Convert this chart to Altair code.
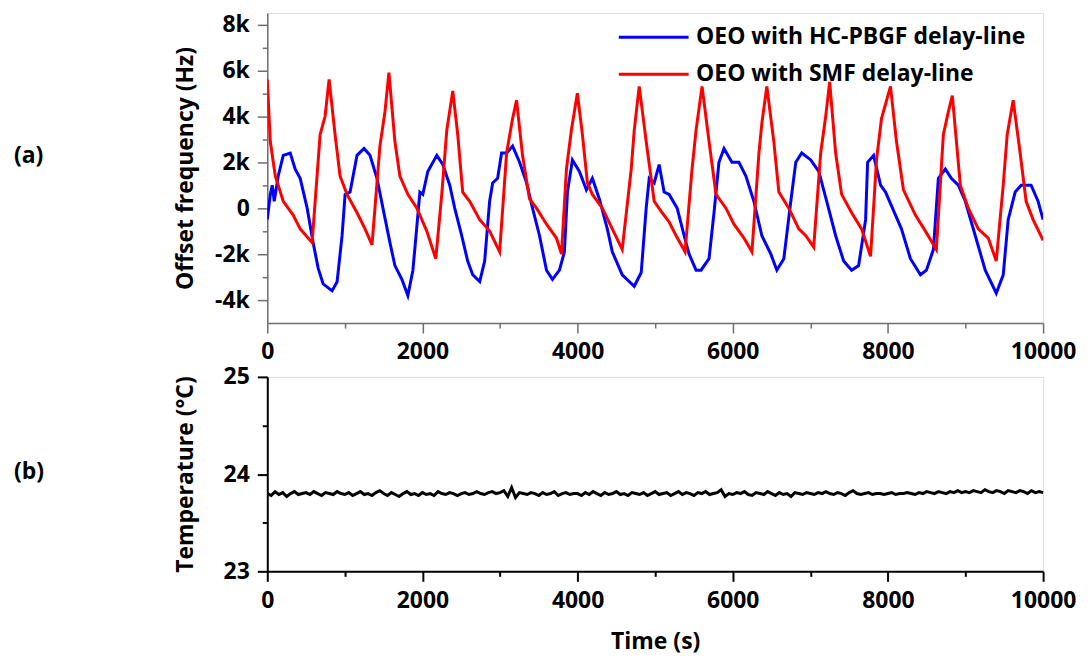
import altair as alt
import pandas as pd

# ---------------- data ----------------
hc_t = [0, 39, 64, 90, 141, 206, 296, 360, 424, 514, 591, 655, 720, 835, 900, 964, 1003, 1067, 1157, 1247,
        1324, 1414, 1491, 1581, 1645, 1735, 1812, 1877, 1941, 1967, 2005, 2069, 2185, 2262, 2352, 2416, 2506,
        2583, 2648, 2738, 2802, 2866, 2905, 2969, 3020, 3085, 3162, 3252, 3342, 3419, 3509, 3599, 3676, 3766,
        3830, 3869, 3933, 4023, 4113, 4190, 4280, 4383, 4447, 4537, 4575, 4730, 4820, 4884, 4923, 4987, 5051,
        5115, 5180, 5283, 5373, 5437, 5527, 5591, 5694, 5758, 5822, 5887, 5989, 6079, 6169, 6272, 6375, 6491,
        6568, 6658, 6748, 6812, 6889, 7005, 7108, 7211, 7326, 7429, 7532, 7622, 7712, 7738, 7815, 7905, 7969,
        8046, 8174, 8290, 8419, 8496, 8586, 8650, 8740, 8817, 8907, 8997, 9126, 9254, 9396, 9486, 9550, 9640,
        9717, 9845, 9935, 10000]
hc_k = [-0.5, 0.6, 1.0, 0.3, 1.4, 2.3, 2.4, 1.7, 1.3, 0.0, -1.5, -2.6, -3.3, -3.6, -3.2, -1.2, 0.6, 0.7, 2.3, 2.6,
        2.3, 1.3, 0.0, -1.5, -2.5, -3.1, -3.8, -2.7, -0.3, 0.7, 0.6, 1.6, 2.3, 1.9, 1.0, 0.0, -1.2,
        -2.3, -2.9, -3.2, -2.3, 0.3, 1.1, 1.3, 2.4, 2.4, 2.7, 2.0, 1.1, 0.0, -1.2, -2.7, -3.1, -2.7,
        -1.9, 0.7, 2.1, 1.6, 0.8, 1.3, 0.4, -0.9, -1.9, -2.6, -2.9, -3.4, -2.8, 0.0, 1.3, 1.1, 1.9,
        0.7, 0.6, 0.0, -1.2, -2.0, -2.7, -2.7, -2.2, -0.2, 2.0, 2.6, 2.0, 2.0, 1.4, 0.3, -1.2, -2.0,
        -2.7, -2.2, 0.3, 2.0, 2.4, 2.1, 1.6, 0.3, -1.2, -2.3, -2.7, -2.5, -0.5, 2.0, 2.3, 1.0, 0.7,
        0.1, -0.9, -2.2, -2.9, -2.7, -1.8, 1.3, 1.7, 1.3, 1.0, 0.3, -1.2, -2.7, -3.7, -2.9, -0.5, 0.7,
        1.0, 1.0, 0.3, -0.5]

smf_t = [0, 39, 103, 206, 334, 424, 578, 681, 745, 797, 874, 938, 1028, 1157, 1260, 1350, 1452, 1517, 1568,
         1645, 1709, 1812, 1928, 2056, 2172, 2249, 2314, 2391, 2455, 2519, 2609, 2738, 2866, 2995, 3085, 3162,
         3213, 3290, 3380, 3470, 3599, 3727, 3792, 3856, 3920, 3997, 4062, 4126, 4190, 4319, 4447, 4575, 4691,
         4730, 4794, 4884, 4987, 5090, 5180, 5270, 5385, 5475, 5527, 5604, 5694, 5784, 5912, 6015, 6144, 6247,
         6337, 6375, 6439, 6529, 6594, 6722, 6851, 6941, 7043, 7133, 7198, 7249, 7326, 7403, 7532, 7660, 7776,
         7853, 7917, 8033, 8110, 8200, 8354, 8483, 8624, 8714, 8779, 8830, 8933, 9036, 9164, 9293, 9396, 9486,
         9537, 9614, 9704, 9781, 9871, 10000]
smf_k = [5.6, 2.9, 1.4, 0.3, -0.3, -0.9, -1.5, 3.2, 4.0, 5.6, 3.2, 1.4, 0.6, -0.2, -0.9, -1.6, 2.7, 4.2, 5.9,
         2.9, 1.4, 0.6, 0.0, -1.0, -2.2, 0.6, 3.4, 5.1, 3.2, 0.7, 0.3, -0.5, -1.0, -1.9, 2.4, 3.9,
         4.7, 2.3, 0.4, 0.0, -0.7, -1.3, -2.0, 1.7, 3.4, 5.0, 3.2, 1.1, 0.6, 0.0, -0.9, -1.8, 1.7,
         3.4, 5.3, 2.9, 0.3, -0.2, -0.6, -1.2, -1.9, 1.7, 3.4, 5.3, 2.9, 0.6, 0.0, -0.7, -1.3, -1.9,
         2.4, 3.7, 5.3, 2.9, 0.7, 0.0, -0.9, -1.2, -1.7, 2.4, 4.0, 5.5, 2.4, 0.6, -0.2, -0.9, -2.1,
         2.1, 3.9, 5.3, 2.9, 0.8, -0.3, -1.0, -1.8, 3.2, 4.2, 4.9, 1.0, 0.0, -0.9, -1.3, -2.3, 1.0,
         3.2, 4.7, 2.4, 0.3, -0.5, -1.4]

temp_t = list(range(0, 10001, 50))
temp_c = [
    23.80, 23.78, 23.82, 23.79, 23.81, 23.77, 23.80, 23.82, 23.79, 23.80, 23.81, 23.79, 23.82, 23.80, 23.78, 23.81, 23.80, 23.79, 23.82, 23.80,
    23.79, 23.81, 23.78, 23.80, 23.82, 23.79, 23.80, 23.78, 23.81, 23.83, 23.80, 23.78, 23.81, 23.79, 23.77, 23.80, 23.82, 23.79, 23.80, 23.78,
    23.81, 23.79, 23.80, 23.78, 23.82, 23.80, 23.79, 23.81, 23.80, 23.78, 23.80, 23.81, 23.79, 23.80, 23.82, 23.80, 23.79, 23.81, 23.82, 23.80,
    23.81, 23.83, 23.77, 23.86, 23.76, 23.81, 23.80, 23.79, 23.81, 23.80, 23.78, 23.81, 23.79, 23.80, 23.82, 23.78, 23.80, 23.81, 23.79, 23.80,
    23.80, 23.78, 23.81, 23.79, 23.82, 23.80, 23.78, 23.81, 23.79, 23.80, 23.82, 23.79, 23.80, 23.78, 23.81, 23.80, 23.79, 23.81, 23.78, 23.80,
    23.82, 23.79, 23.80, 23.81, 23.78, 23.80, 23.82, 23.79, 23.81, 23.80, 23.78, 23.81, 23.80, 23.82, 23.79, 23.80, 23.81, 23.84, 23.77, 23.80,
    23.79, 23.81, 23.80, 23.82, 23.79, 23.78, 23.81, 23.80, 23.79, 23.82, 23.80, 23.78, 23.81, 23.79, 23.80, 23.77, 23.81, 23.80, 23.79, 23.81,
    23.80, 23.79, 23.81, 23.80, 23.82, 23.80, 23.79, 23.81, 23.80, 23.78, 23.81, 23.83, 23.80, 23.79, 23.80, 23.81, 23.79, 23.80, 23.80, 23.79,
    23.80, 23.81, 23.79, 23.80, 23.80, 23.81, 23.80, 23.79, 23.81, 23.80, 23.82, 23.81, 23.80, 23.82, 23.81, 23.80, 23.82, 23.81, 23.83, 23.81,
    23.82, 23.81, 23.83, 23.82, 23.81, 23.84, 23.82, 23.81, 23.83, 23.82, 23.80, 23.83, 23.82, 23.81, 23.83, 23.82, 23.80, 23.83, 23.81, 23.82,
    23.81,
]

series_names = ["OEO with HC-PBGF delay-line", "OEO with SMF delay-line"]
series_colors = ["#0000ff", "#ff0000"]

x_ticks = [0, 1000, 2000, 3000, 4000, 5000, 6000, 7000, 8000, 9000, 10000]
y1_ticks = [-4000, -3000, -2000, -1000, 0, 1000, 2000, 3000, 4000, 5000, 6000, 7000, 8000]
y2_ticks = [23, 23.5, 24, 24.5, 25]

# ---------------- tables ----------------
df_top = pd.concat([
    pd.DataFrame({"t": hc_t, "v": [k * 1000 for k in hc_k], "s": series_names[0], "o": 0}),
    pd.DataFrame({"t": smf_t, "v": [k * 1000 for k in smf_k], "s": series_names[1], "o": 1}),
], ignore_index=True)
df_temp = pd.DataFrame({"t": temp_t, "c": temp_c})

FONT = "Open Sans"
W = 778

xs = alt.Scale(domain=[0, 10000], nice=False, zero=False)
ys1 = alt.Scale(domain=[-5000, 8500], nice=False, zero=False)
ys2 = alt.Scale(domain=[23, 25], nice=False, zero=False)


def axis(orient, values, major_test, label_expr, color, width, title=None, title_x=None,
         label_pad=8, title_pad=None):
    kw = dict(orient=orient, values=values,
              tickSize={"condition": {"test": major_test, "value": 10}, "value": 5},
              tickWidth=width, tickColor=color, domainColor=color, domainWidth=width, grid=False,
              labelFont=FONT, labelFontWeight="bold", labelFontSize=23, labelColor="black",
              labelPadding=label_pad, labelExpr=label_expr, labelOverlap=False, labelFlush=False)
    if title:
        kw.update(title=title, titleFont=FONT, titleFontWeight="bold", titleFontSize=23,
                  titleColor="black")
        if title_x is not None:
            kw["titleX"] = title_x
        if title_pad is not None:
            kw["titlePadding"] = title_pad
    else:
        kw["title"] = None
    return alt.Axis(**kw)


x_test = "datum.value % 2000 === 0"
x_lab = "datum.value % 2000 === 0 ? format(datum.value, 'd') : ''"
y1_test = "datum.value % 2000 === 0"
y1_lab = "datum.value % 2000 !== 0 ? '' : (datum.value === 0 ? '0' : (datum.value / 1000) + 'k')"
y2_test = "datum.value % 1 === 0"
y2_lab = "datum.value % 1 === 0 ? format(datum.value, 'd') : ''"

GRAY = "#6e6e6e"

# ---------------- top panel ----------------
lines = alt.Chart(df_top).mark_line(strokeWidth=3, clip=True).encode(
    x=alt.X("t:Q", scale=xs, axis=axis("bottom", x_ticks, x_test, x_lab, GRAY, 1.5)),
    y=alt.Y("v:Q", scale=ys1, axis=axis("left", y1_ticks, y1_test, y1_lab, GRAY, 1.5,
                                          title="Offset frequency (Hz)", title_x=-70)),
    color=alt.Color("s:N", scale=alt.Scale(domain=series_names, range=series_colors),
                    legend=alt.Legend(
                        title=None, orient="none", legendX=372, legendY=9,
                        symbolType="M-2.5,0H2.5", symbolSize=784, symbolStrokeWidth=3,
                        symbolFillColor="transparent",
                        labelFont=FONT, labelFontWeight="bold", labelFontSize=23,
                        labelColor="black", labelOffset=27, labelLimit=600,
                        rowPadding=9, padding=0)),
    order="o:Q",
)
lab_a = alt.Chart(pd.DataFrame({"l": ["(a)"]})).mark_text(
    font=FONT, fontWeight="bold", fontSize=23, align="left", baseline="middle", color="black"
).encode(x=alt.value(-254), y=alt.value(144), text="l:N")

top = alt.layer(lines, lab_a).properties(width=W, height=311)

# ---------------- bottom panel ----------------
temp_line = alt.Chart(df_temp).mark_line(strokeWidth=3, color="black").encode(
    x=alt.X("t:Q", scale=xs, axis=axis("bottom", x_ticks, x_test, x_lab, "black", 2,
                                         title="Time (s)", title_pad=18)),
    y=alt.Y("c:Q", scale=ys2, axis=axis("left", y2_ticks, y2_test, y2_lab, "black", 2,
                                          title="Temperature (°C)", title_x=-70)),
)
lab_b = alt.Chart(pd.DataFrame({"l": ["(b)"]})).mark_text(
    font=FONT, fontWeight="bold", fontSize=23, align="left", baseline="middle", color="black"
).encode(x=alt.value(-254), y=alt.value(95), text="l:N")

bottom = alt.layer(temp_line, lab_b).properties(width=W, height=195)

chart = alt.vconcat(top, bottom, spacing=0).configure_view(
    stroke=GRAY, strokeWidth=1.5
).properties(
    padding={"left": 5, "top": 3, "right": 5, "bottom": 5}
).configure(background="white")

chart.save("out.html", embed_options={"renderer": "svg", "actions": False})
